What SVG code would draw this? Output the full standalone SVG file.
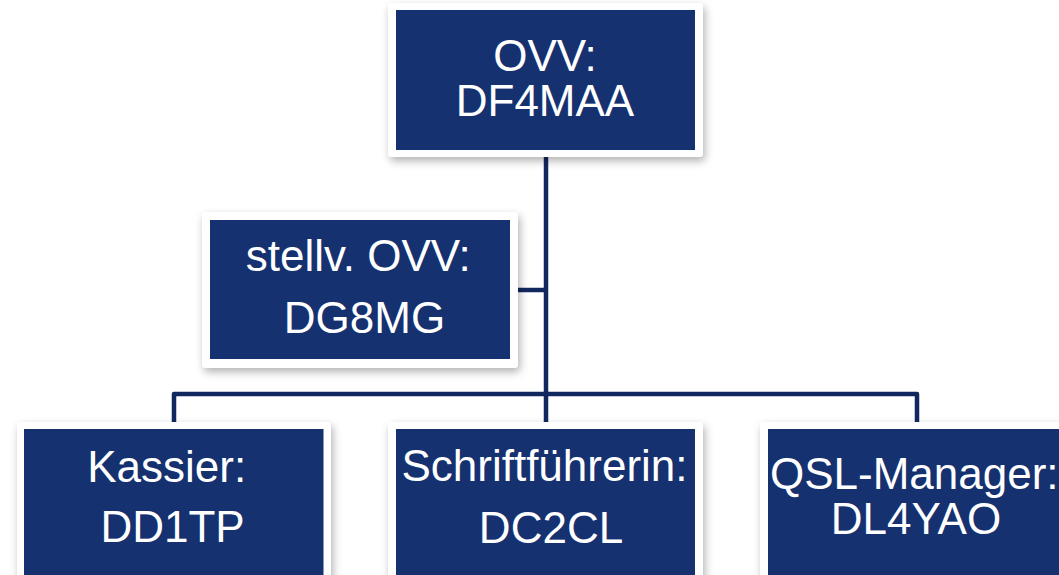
<svg xmlns="http://www.w3.org/2000/svg" width="1059" height="575" viewBox="0 0 1059 575">
<defs>
<filter id="sh" x="-10%" y="-10%" width="125%" height="130%">
<feDropShadow dx="2" dy="4" stdDeviation="4" flood-color="#000" flood-opacity="0.3"/>
</filter>
<style>
.frame{fill:#ffffff;filter:url(#sh);}
.box{fill:#15316f;}
.t{font-family:"Liberation Sans",Arial,sans-serif;font-size:44px;fill:#ffffff;text-anchor:middle;}
.c{fill:none;stroke:#112760;stroke-width:4.5;stroke-linejoin:round;}
</style>
</defs>
<rect width="1059" height="575" fill="#ffffff"/>
<g id="connectors">
<path class="c" d="M546,157 V422"/>
<path class="c" d="M518,290 H546"/>
<path class="c" d="M174,422 V394 H917 V422"/>
</g>
<g id="ovv">
<rect class="frame" x="388" y="3" width="315" height="154" rx="4"/>
<rect class="box" x="396" y="10" width="299" height="140"/>
<text class="t" x="545" y="70.5">OVV:</text>
<text class="t" x="545" y="116">DF4MAA</text>
</g>
<g id="stellv">
<rect class="frame" x="202" y="212" width="316" height="156" rx="4"/>
<rect class="box" x="210" y="220" width="300" height="139"/>
<text class="t" x="358.3" y="270.7">stellv. OVV:</text>
<text class="t" x="364.5" y="333">DG8MG</text>
</g>
<g id="kassier">
<rect class="frame" x="17" y="422" width="314" height="170" rx="4"/>
<rect class="box" x="24" y="429" width="299.5" height="160"/>
<text class="t" x="166.7" y="481.7">Kassier:</text>
<text class="t" x="172.5" y="542">DD1TP</text>
</g>
<g id="schrift">
<rect class="frame" x="388" y="422" width="315" height="170" rx="4"/>
<rect class="box" x="396" y="429" width="299" height="160"/>
<text class="t" x="544.5" y="481">Schriftführerin:</text>
<text class="t" x="551" y="542.7">DC2CL</text>
</g>
<g id="qsl">
<rect class="frame" x="760" y="422" width="315" height="170" rx="4"/>
<rect class="box" x="768" y="429" width="299" height="160"/>
<text class="t" x="770" y="489" style="text-anchor:start">QSL-Manager:</text>
<text class="t" x="916" y="534">DL4YAO</text>
</g>
</svg>
